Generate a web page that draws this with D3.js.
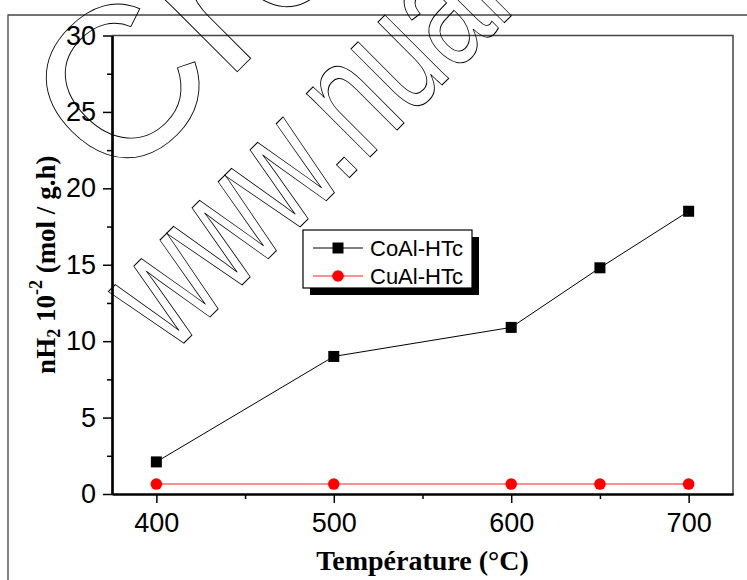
<!DOCTYPE html>
<html>
<head>
<meta charset="utf-8">
<script src="https://cdn.jsdelivr.net/npm/d3@7"></script>
<style>
  html, body { margin: 0; padding: 0; background: #fff; }
  svg { display: block; }
</style>
</head>
<body>
<svg id="chart" width="747" height="580"></svg>
<script>
// Hydrogen production vs. temperature for two hydrotalcite-derived catalysts
const temperatures = [400, 500, 600, 650, 700];
const coAlValues = [2.1, 9.0, 10.9, 14.8, 18.5];
const cuAlValues = [0.65, 0.65, 0.65, 0.65, 0.65];
const seriesNames = ["CoAl-HTc", "CuAl-HTc"];
const xTickValues = [400, 500, 600, 700];
const xMinorTicks = [450, 550, 650];
const yTickValues = [0, 5, 10, 15, 20, 25, 30];
const yMinorTicks = [2.5, 7.5, 12.5, 17.5, 22.5, 27.5];

const svg = d3.select("#chart");
const W = 747, H = 580;
const plot = { left: 112, right: 733, top: 35.5, bottom: 494 };

const x = d3.scaleLinear().domain([375, 725]).range([plot.left, plot.right]);
const y = d3.scaleLinear().domain([0, 30]).range([plot.bottom, plot.top]);

const sansFont = "'Liberation Sans', Arial, sans-serif";
const serifFont = "'Liberation Serif', 'Times New Roman', serif";

svg.append("rect").attr("width", W).attr("height", H).attr("fill", "#fff");

// outer page frame
svg.append("path")
  .attr("d", `M8,${H} L8,15 L${W},15`)
  .attr("fill", "none").attr("stroke", "#444").attr("stroke-width", 1.3);

// top and right plot border
svg.append("path")
  .attr("d", `M${plot.left},${plot.top} L${plot.right},${plot.top} L${plot.right},${plot.bottom}`)
  .attr("fill", "none").attr("stroke", "#444").attr("stroke-width", 1.5);

// axes
const xAxis = svg.append("g").attr("transform", `translate(0,${plot.bottom})`)
  .call(d3.axisBottom(x).tickValues(xTickValues).tickSize(9).tickSizeOuter(0).tickPadding(9));
const xMinor = svg.append("g").attr("transform", `translate(0,${plot.bottom})`)
  .call(d3.axisBottom(x).tickValues(xMinorTicks).tickSize(5).tickSizeOuter(0).tickFormat(""));
const yAxis = svg.append("g").attr("transform", `translate(${plot.left},0)`)
  .call(d3.axisLeft(y).tickValues(yTickValues).tickSize(9).tickSizeOuter(0).tickPadding(7));
const yMinor = svg.append("g").attr("transform", `translate(${plot.left},0)`)
  .call(d3.axisLeft(y).tickValues(yMinorTicks).tickSize(5).tickSizeOuter(0).tickFormat(""));

[xAxis, xMinor, yAxis, yMinor].forEach(g => {
  g.select(".domain").attr("stroke", "#000").attr("stroke-width", 2.2);
  g.selectAll(".tick line").attr("stroke", "#000").attr("stroke-width", 1.5);
  g.selectAll(".tick text").attr("fill", "#000")
    .style("font-family", sansFont).style("font-size", "27px");
});
xAxis.selectAll(".tick text").attr("dy", "0.75em");

// series lines and markers
const coPts = temperatures.map((t, i) => [t, coAlValues[i]]);
const cuPts = temperatures.map((t, i) => [t, cuAlValues[i]]);
const line = d3.line().x(d => x(d[0])).y(d => y(d[1]));

svg.append("path").datum(cuPts).attr("d", line)
  .attr("fill", "none").attr("stroke", "#ff6b6b").attr("stroke-width", 1.6);
svg.append("path").datum(coPts).attr("d", line)
  .attr("fill", "none").attr("stroke", "#000").attr("stroke-width", 1);

const sq = 11;
svg.append("g").selectAll("rect").data(coPts).join("rect")
  .attr("x", d => x(d[0]) - sq / 2).attr("y", d => y(d[1]) - sq / 2)
  .attr("width", sq).attr("height", sq).attr("fill", "#000");
svg.append("g").selectAll("circle").data(cuPts).join("circle")
  .attr("cx", d => x(d[0])).attr("cy", d => y(d[1])).attr("r", 5.8).attr("fill", "#ff0000");

// axis titles
svg.append("text")
  .attr("x", (plot.left + plot.right) / 2).attr("y", 570)
  .attr("text-anchor", "middle")
  .style("font-family", serifFont).style("font-weight", "bold").style("font-size", "28px")
  .text("Température (°C)");

const yTitle = svg.append("text")
  .attr("transform", `translate(55,${(plot.top + plot.bottom) / 2}) rotate(-90)`)
  .attr("text-anchor", "middle")
  .style("font-family", serifFont).style("font-weight", "bold").style("font-size", "27px");
yTitle.append("tspan").text("nH");
yTitle.append("tspan").attr("dy", 5).style("font-size", "18px").text("2");
yTitle.append("tspan").attr("dy", -5).text(" 10");
yTitle.append("tspan").attr("dy", -13).style("font-size", "18px").text("-2");
yTitle.append("tspan").attr("dy", 13).text(" (mol / g.h)");

// legend with drop shadow
const legend = { x: 303, y: 230, w: 169, h: 58, shadow: 7 };
svg.append("rect")
  .attr("x", legend.x + legend.shadow).attr("y", legend.y + legend.shadow)
  .attr("width", legend.w).attr("height", legend.h).attr("fill", "#000");
svg.append("rect")
  .attr("x", legend.x).attr("y", legend.y).attr("width", legend.w).attr("height", legend.h)
  .attr("fill", "#fff").attr("stroke", "#000").attr("stroke-width", 1.2);

const rows = [
  { name: seriesNames[0], color: "#000", lineColor: "#000", lw: 1, shape: "square" },
  { name: seriesNames[1], color: "#ff0000", lineColor: "#ff6b6b", lw: 1.6, shape: "circle" }
];
rows.forEach((r, i) => {
  const cy = legend.y + 18 + i * 28;
  svg.append("line").attr("x1", legend.x + 10).attr("x2", legend.x + 60)
    .attr("y1", cy).attr("y2", cy).attr("stroke", r.lineColor).attr("stroke-width", r.lw);
  if (r.shape === "square") {
    svg.append("rect").attr("x", legend.x + 35 - sq / 2).attr("y", cy - sq / 2)
      .attr("width", sq).attr("height", sq).attr("fill", r.color);
  } else {
    svg.append("circle").attr("cx", legend.x + 35).attr("cy", cy).attr("r", 5.8).attr("fill", r.color);
  }
  svg.append("text").attr("x", legend.x + 67).attr("y", cy + 8)
    .style("font-family", sansFont).style("font-size", "22px").text(r.name);
});

// diagonal outlined stamp text
const stamp = svg.append("g").attr("fill", "none").attr("stroke", "#000")
  .attr("stroke-width", 0.9)
  .style("font-family", sansFont);
stamp.append("text")
  .attr("transform", "translate(117,192) rotate(-45)")
  .style("font-size", "215px")
  .text("Create!");
stamp.append("text")
  .attr("transform", "translate(172,355) rotate(-45) scale(0.67,1)")
  .style("font-size", "170px")
  .attr("vector-effect", "non-scaling-stroke")
  .text("www.nuance.com");
</script>
</body>
</html>
